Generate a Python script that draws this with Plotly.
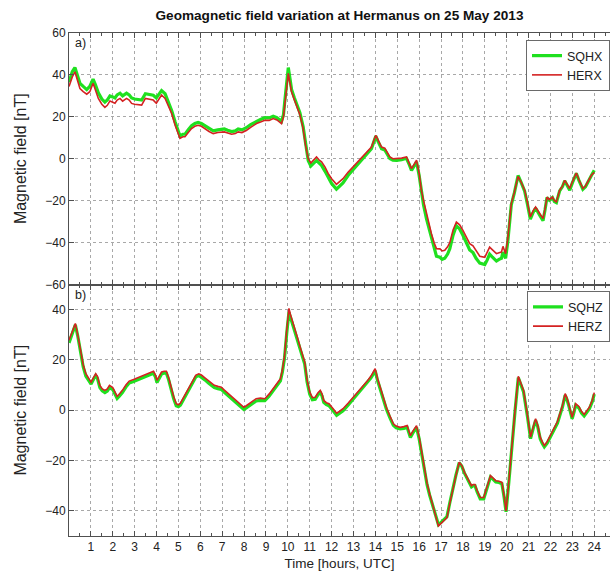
import plotly.graph_objects as go

# ---------------- data ----------------
t_x = [0.0, 0.15, 0.27, 0.4, 0.5, 0.65, 0.81, 0.95, 1.1, 1.2, 1.34, 1.5, 1.64, 1.75, 1.87,
       2.0, 2.1, 2.2, 2.33, 2.45, 2.63, 2.75, 2.86, 3.0, 3.15, 3.32, 3.49, 3.65, 3.85, 3.99,
       4.1, 4.23, 4.39, 4.55, 4.69, 4.85, 5.0, 5.07, 5.2, 5.3, 5.45, 5.6, 5.75, 5.9, 6.05,
       6.2, 6.4, 6.59, 6.8, 7.1, 7.25, 7.43, 7.6, 7.73, 7.9, 8.1, 8.3, 8.57, 8.75, 8.95,
       9.15, 9.33, 9.5, 9.71, 9.8, 9.86, 9.95, 10.02, 10.1, 10.17, 10.3, 10.4, 10.55, 10.7,
       10.8, 10.93, 11.05, 11.1, 11.2, 11.31, 11.42, 11.54, 11.7, 11.84, 12.0, 12.22, 12.35,
       12.52, 12.75, 12.98, 13.2, 13.44, 13.65, 13.82, 13.92, 14.02, 14.12, 14.28, 14.43,
       14.55, 14.66, 14.8, 14.96, 15.2, 15.42, 15.55, 15.65, 15.78, 15.88, 16.0, 16.1, 16.2,
       16.33, 16.45, 16.56, 16.68, 16.79, 16.95, 17.05, 17.17, 17.3, 17.4, 17.55, 17.7,
       17.85, 18.0, 18.15, 18.31, 18.46, 18.6, 18.77, 19.0, 19.1, 19.22, 19.35, 19.53,
       19.65, 19.76, 19.83, 19.95, 20.05, 20.21, 20.35, 20.52, 20.65, 20.82, 20.95, 21.08,
       21.2, 21.32, 21.5, 21.66, 21.75, 21.84, 21.95, 22.09, 22.18, 22.27, 22.42, 22.55,
       22.65, 22.78, 22.88, 23.0, 23.18, 23.3, 23.48, 23.6, 23.75, 23.87, 24.0]

herx = [34.5, 39, 41.5, 37, 33.5, 32, 30.8, 32, 36, 33, 28.8, 26, 24.5, 25.5, 27.6,
        27, 26.5, 28, 28.8, 27.5, 28.8, 28, 26.4, 26, 25.8, 25.6, 28.8, 28.5, 28, 26.5,
        28.5, 30.4, 28.8, 25, 21.6, 16, 11, 9.7, 10.5, 10.5, 12.5, 14.4, 15.5, 16, 15.5,
        14.4, 13, 12, 12.5, 12.8, 12.3, 11.7, 12, 12.8, 12.5, 13.5, 15, 16.8, 17.5, 18.4,
        18.3, 19.2, 18.5, 16.8, 20, 26.4, 35, 40.7, 36, 31.9, 28, 24.8, 21, 14.4,
        7, 0.1, -2, -1.5, -0.5, 0.9, -0.5, -1.5, -4, -7, -9.5, -12.2, -11,
        -9.5, -6.5, -3.9, -1.5, 0.9, 3.5, 5.6, 8.5, 11.2, 9, 5.6, 5.0,
        3, 0.9, 0, 0, 0.3, 0.9, -2, -4.7, -2.5, -0.7, -7, -15, -20,
        -26.2, -31, -35.8, -40, -42.9, -43, -44, -43.7, -42, -40, -34, -30.2,
        -31.5, -34.2, -37, -40.5, -41.5, -44, -46.5, -47, -45, -42.2, -43.5, -45.3,
        -44.8, -44.5, -41.8, -45.3, -38, -21.4, -16, -8.4, -11, -15, -21, -27.8,
        -25, -23, -26, -28.6, -24, -18.3, -19.5, -18.3, -20, -20.5, -15, -13,
        -10.3, -12.5, -14.2, -11, -6.8, -10, -14.2, -13, -10.5, -7.9, -6.5]

sqhx = [36.5, 41.5, 43.5, 39.5, 36, 34.5, 33, 34.5, 38, 35.5, 31.5, 28.5, 27, 28, 30,
        29.5, 29, 30.5, 31.3, 30, 31.3, 30.5, 29, 28.5, 28.3, 28, 31, 30.8, 30.3, 29,
        30.8, 32.5, 31, 27, 23, 17.5, 12.3, 10.8, 11.7, 11.7, 13.8, 15.8, 16.8, 17.3, 16.8,
        15.7, 14.3, 13.3, 13.8, 14.2, 13.6, 13, 13.3, 14.2, 13.8, 14.8, 16.3, 18, 18.7, 19.6,
        19.5, 20.3, 19.6, 17.8, 21, 27.5, 37, 43.5, 38, 33, 29, 25.8, 22, 15.2,
        7.5, -0.8, -3.5, -3, -2, -0.8, -2, -3.2, -6, -9, -11.8, -14.5, -13.3,
        -11.5, -8, -5.2, -2.6, 0, 2.6, 4.8, 7.8, 10.8, 8.3, 4.8, 4.2,
        2.2, 0.1, -0.7, -0.8, -0.5, 0.2, -2.8, -5.6, -3.3, -1.4, -8, -16.5, -22,
        -28.5, -33.5, -38.5, -43, -46.5, -47, -48, -47.5, -45.5, -43, -36.5, -32,
        -33.5, -36.5, -39.5, -43.5, -44.8, -47.5, -49.8, -50.5, -48.5, -45.5, -47, -48.8,
        -48, -47.5, -44.5, -47.5, -39.5, -22, -16.3, -8, -11, -15.5, -21.8, -28.8,
        -25.8, -23.5, -26.8, -29.5, -24.5, -18.5, -19.8, -18.5, -20.5, -21, -15.3, -13.3,
        -10.5, -13, -15, -11.5, -7, -10.3, -14.6, -13.4, -10.8, -8, -5.5]

t_z = [0.0, 0.15, 0.29, 0.4, 0.53, 0.65, 0.77, 0.9, 1.01, 1.12, 1.22, 1.3, 1.41, 1.52, 1.64,
       1.75, 1.85, 2.0, 2.1, 2.2, 2.3, 2.44, 2.6, 2.75, 2.95, 3.15, 3.35, 3.55, 3.7, 3.86,
       3.95, 4.02, 4.12, 4.23, 4.35, 4.45, 4.55, 4.66, 4.78, 4.9, 5.0, 5.09, 5.2, 5.37, 5.55,
       5.69, 5.8, 5.93, 6.05, 6.21, 6.4, 6.64, 6.8, 6.96, 7.1, 7.28, 7.5, 7.75, 7.9, 7.99,
       8.1, 8.23, 8.4, 8.55, 8.75, 8.95, 9.15, 9.34, 9.5, 9.66, 9.75, 9.85, 9.95, 10.05,
       10.12, 10.21, 10.33, 10.45, 10.6, 10.77, 10.88, 11.0, 11.12, 11.25, 11.38, 11.48,
       11.56, 11.64, 11.76, 11.88, 12.05, 12.23, 12.35, 12.52, 12.75, 12.99, 13.25, 13.47,
       13.65, 13.79, 13.9, 13.99, 14.1, 14.26, 14.38, 14.5, 14.65, 14.82, 14.95, 15.13,
       15.3, 15.45, 15.52, 15.6, 15.7, 15.82, 15.88, 16.0, 16.12, 16.24, 16.36, 16.48,
       16.6, 16.72, 16.8, 16.88, 17.0, 17.12, 17.2, 17.27, 17.4, 17.52, 17.68, 17.83,
       17.95, 18.07, 18.2, 18.39, 18.47, 18.55, 18.65, 18.79, 18.95, 19.1, 19.26, 19.38,
       19.5, 19.65, 19.78, 19.88, 19.97, 20.1, 20.21, 20.38, 20.53, 20.65, 20.77, 20.95,
       21.09, 21.2, 21.32, 21.42, 21.53, 21.62, 21.72, 21.85, 21.96, 22.08, 22.2, 22.32,
       22.43, 22.55, 22.67, 22.75, 22.83, 22.9, 22.99, 23.08, 23.15, 23.3, 23.42, 23.54,
       23.65, 23.78, 23.91, 24.0]

herz = [27.8, 31, 34.5, 30, 23.8, 18, 14.5, 12.5, 11.2, 13, 14.5, 13.5, 9.9, 8.5, 7.9,
        8.5, 9.9, 9, 7, 5.5, 6.5, 7.9, 10, 11.6, 12.2, 12.9, 13.5, 14.5, 15, 15.5,
        14, 11.9, 13.5, 15.2, 15.5, 15.5, 13, 9.2, 5.5, 2.6, 2.2, 2.8, 4.5, 7.2, 10,
        12.5, 14, 14.5, 14, 12.9, 11.5, 9.9, 9.5, 9.2, 8, 6.6, 5, 3.2, 2, 1.2,
        1.8, 2.6, 3.8, 4.6, 4.8, 4.6, 6.5, 8.6, 10.5, 12.5, 16, 21.8, 32, 40.5,
        38, 35.1, 31.5, 28.5, 24, 19.2, 12, 7.2, 5, 5.2, 7, 7.9,
        6.5, 3.9, 3, 2.6, 0.8, -1.2, -0.5, 0.6, 2.8, 5.2, 7.5, 9.9,
        11.8, 13.5, 15, 16.5, 12.5, 7.9, 4.5, 1.2, -2, -5.4, -6.3, -6.8,
        -6.5, -6.1, -8, -10.1, -8.5, -6.5, -6.1, -10.7, -17, -24, -29, -33.3,
        -37, -40, -43, -46, -45, -44, -43, -42.7, -37, -32, -26, -20.7,
        -22, -24.7, -27, -30, -29.5, -29.5, -32, -34.7, -34.7, -30, -26, -27,
        -28, -28.2, -28.7, -34, -40, -28, -16, 0, 13.5, 11, 7.9, -2,
        -10.7, -7, -3.4, -6, -10.7, -12.5, -14, -12.5, -10.7, -9, -6.8, -4.5,
        -1.4, 2, 6.6, 5, 2.6, 0, -2.8, 0, 2.6, 1.5, -0.5, -1.7,
        -0.5, 1.2, 4, 7]

sqhz = [26.8, 30.5, 34, 29.5, 23, 17.2, 13.6, 11.7, 10.4, 12.3, 13.8, 12.7, 9, 7.7, 7,
        7.6, 9, 8.2, 6.2, 4.7, 5.6, 7, 9.2, 10.8, 11.4, 12.1, 12.7, 13.6, 14.2, 14.7,
        13.2, 11, 12.6, 14.4, 14.8, 14.7, 12.2, 8.4, 4.7, 1.8, 1.4, 2, 3.7, 6.4, 9.2,
        11.7, 13.3, 13.8, 13.2, 12.1, 10.6, 9, 8.6, 8.3, 7.1, 5.7, 4.1, 2.3, 1.1, 0.3,
        0.9, 1.7, 2.9, 3.7, 3.9, 3.8, 5.7, 7.8, 9.7, 11.7, 15.2, 21, 30.8, 39,
        37, 34.3, 30.8, 27.8, 23.3, 18.4, 11.2, 6.4, 4.2, 4.4, 6.2, 7.1,
        5.7, 3.1, 2.2, 1.8, 0, -2, -1.3, -0.2, 2, 4.5, 6.8, 9.2,
        11, 12.8, 14.3, 15.8, 11.8, 7.1, 3.8, 0.5, -2.7, -6, -7, -7.4,
        -7.2, -6.8, -8.7, -10.8, -9.2, -7.2, -6.8, -11.4, -17.6, -24.5, -29.6, -33.8,
        -37.5, -40.5, -43, -45.5, -44.6, -43.6, -42.6, -42.3, -36.8, -31.8, -25.8, -20.8,
        -22.3, -25, -27.4, -30.5, -30, -30, -32.5, -35.2, -35.2, -30.5, -26.5, -27.5,
        -28.5, -28.7, -29.2, -34.5, -40.4, -28.4, -16.4, -0.4, 13, 10.5, 7.3, -2.6,
        -11.3, -7.6, -4, -6.6, -11.3, -13.1, -14.6, -13.1, -11.3, -9.6, -7.4, -5.1,
        -2, 1.4, 6, 4.4, 2, -0.6, -3.4, -0.6, 2, 0.9, -1.1, -2.3,
        -1.1, 0.6, 3.4, 6.4]

hour_ticks = list(range(1, 25))
hour_labels = [str(h) for h in hour_ticks]
top_yticks = [-60, -40, -20, 0, 20, 40, 60]
bot_yticks = [-40, -20, 0, 20, 40]

# ---------------- styling ----------------
GREEN = "#1fe01f"
RED = "#d42222"
FONT = "Liberation Sans, Arial, sans-serif"
AXC = "#505050"
GRIDC = "#a8a8a8"

fig = go.Figure()
fig.add_trace(go.Scatter(x=t_x, y=sqhx, name="SQHX", mode="lines",
                         line=dict(color=GREEN, width=3.2), xaxis="x", yaxis="y",
                         legend="legend"))
fig.add_trace(go.Scatter(x=t_x, y=herx, name="HERX", mode="lines",
                         line=dict(color=RED, width=1.6), xaxis="x", yaxis="y",
                         legend="legend"))
fig.add_trace(go.Scatter(x=t_z, y=sqhz, name="SQHZ", mode="lines",
                         line=dict(color=GREEN, width=3.2), xaxis="x2", yaxis="y2",
                         legend="legend2"))
fig.add_trace(go.Scatter(x=t_z, y=herz, name="HERZ", mode="lines",
                         line=dict(color=RED, width=1.6), xaxis="x2", yaxis="y2",
                         legend="legend2"))

XR = [0, 24.72]
common_x = dict(range=XR, showline=True, linecolor=AXC, linewidth=1, mirror="allticks",
                ticks="inside", ticklen=5, tickcolor=AXC, tickmode="array",
                tickvals=hour_ticks, showgrid=True, gridcolor=GRIDC, griddash="dot",
                gridwidth=1, zeroline=False,
                minor=dict(tickmode="linear", tick0=0, dtick=0.5, ticks="inside",
                           ticklen=3, tickcolor=AXC, showgrid=False))
common_y = dict(showline=True, linecolor=AXC, linewidth=1, mirror=False,
                ticks="inside", ticklen=5, tickcolor=AXC, tickmode="array",
                showgrid=True, gridcolor=GRIDC, griddash="dot", gridwidth=1,
                zeroline=False, tickfont=dict(family=FONT, size=12, color="#222"),
                title=dict(text="Magnetic field [nT]", standoff=14,
                           font=dict(family=FONT, size=16, color="#222")))

fig.update_layout(
    width=610, height=581,
    margin=dict(l=69, r=0, t=33, b=45),
    paper_bgcolor="white", plot_bgcolor="white",
    title=dict(text="Geomagnetic field variation at Hermanus on 25 May 2013",
               x=0.5, xref="paper", xanchor="center",
               y=1 - 15 / 581, yref="container", yanchor="middle",
               font=dict(family=FONT, size=13.6, color="#111", weight="bold")),
    xaxis=dict(common_x, anchor="y", domain=[0, 1], showticklabels=False),
    yaxis=dict(common_y, domain=[0.5, 1], range=[-60, 60], tickvals=top_yticks),
    xaxis2=dict(common_x, anchor="y2", domain=[0, 1], ticktext=hour_labels,
                tickfont=dict(family=FONT, size=12, color="#222"),
                title=dict(text="Time [hours, UTC]", standoff=5,
                           font=dict(family=FONT, size=13.5, color="#222"))),
    yaxis2=dict(common_y, domain=[0, 0.5], range=[-50, 50], tickvals=bot_yticks),
    legend=dict(x=1, xref="paper", xanchor="right", y=1 - 7 / 503, yref="paper",
                yanchor="top", bordercolor="#6a6a6a", borderwidth=1, bgcolor="white",
                font=dict(family=FONT, size=12.5, color="#222"),
                itemwidth=30, tracegroupgap=0),
    legend2=dict(x=1, xref="paper", xanchor="right", y=0.4865, yref="paper",
                 yanchor="top", bordercolor="#6a6a6a", borderwidth=1, bgcolor="white",
                 font=dict(family=FONT, size=12.5, color="#222"),
                 itemwidth=30, tracegroupgap=0),
    showlegend=True,
    annotations=[
        dict(text="a)", xref="x domain", yref="y domain", x=0.008, y=0.995,
             xanchor="left", yanchor="top", showarrow=False,
             font=dict(family=FONT, size=12.5, color="#222")),
        dict(text="b)", xref="x2 domain", yref="y2 domain", x=0.008, y=0.995,
             xanchor="left", yanchor="top", showarrow=False,
             font=dict(family=FONT, size=12.5, color="#222")),
    ],
)

fig.write_html("out.html")
